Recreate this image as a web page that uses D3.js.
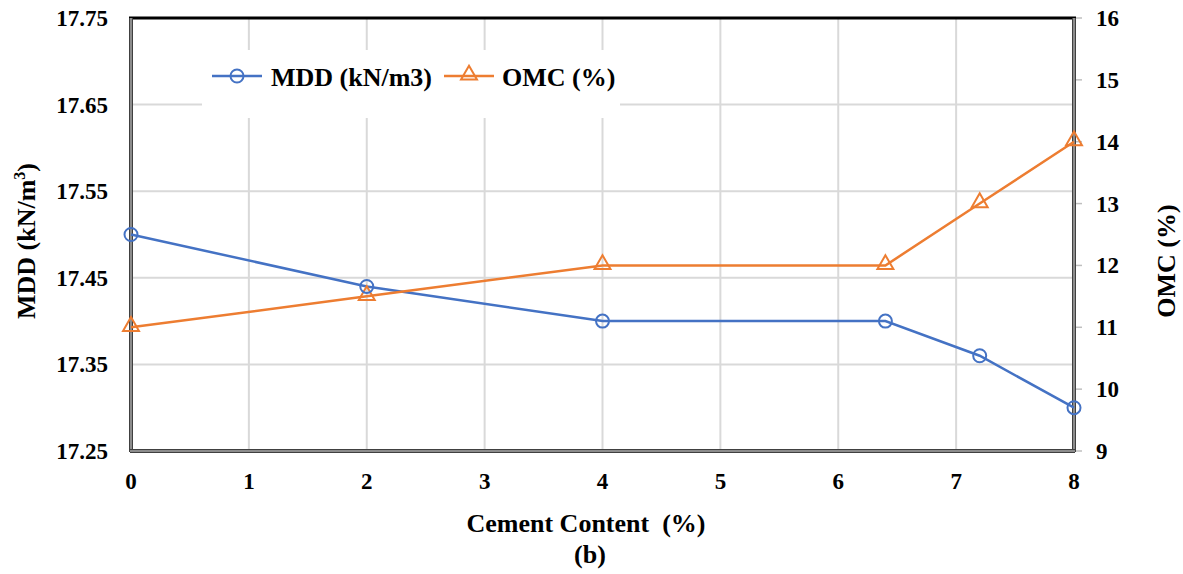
<!DOCTYPE html>
<html><head><meta charset="utf-8">
<script src="https://cdn.jsdelivr.net/npm/d3@7"></script>
<style>body{margin:0;background:#fff}svg{display:block}</style>
</head><body><svg id="c" width="1183" height="574"></svg>
<script>
const cement = [0, 2, 4, 6.4, 7.2, 8];
const mdd = [17.50, 17.44, 17.40, 17.40, 17.36, 17.30];
const omc = [11.0, 11.5, 12.0, 12.0, 13.0, 14.0];
const xTicks = [0,1,2,3,4,5,6,7,8];
const yLeftTicks = [17.25,17.35,17.45,17.55,17.65,17.75];
const yRightTicks = [9,10,11,12,13,14,15,16];

const svg = d3.select("#c")
  .attr("font-family","'Liberation Serif','Times New Roman',Tinos,serif")
  .attr("font-weight","bold");
const L=131, R=1074, T=18, B=451;
const x = d3.scaleLinear().domain([0,8]).range([L,R]);
const yL = d3.scaleLinear().domain([17.25,17.75]).range([B,T]);
const yR = d3.scaleLinear().domain([9,16]).range([B,T]);

const g = svg.append("g");
g.selectAll(".vg").data(xTicks.slice(1,-1)).join("line")
 .attr("x1",d=>x(d)).attr("x2",d=>x(d)).attr("y1",T).attr("y2",B)
 .attr("stroke","#d9d9d9").attr("stroke-width",2);
g.selectAll(".hg").data(yLeftTicks.slice(1,-1)).join("line")
 .attr("x1",L).attr("x2",R).attr("y1",d=>yL(d)).attr("y2",d=>yL(d))
 .attr("stroke","#d9d9d9").attr("stroke-width",2);

svg.append("line").attr("x1",L-2).attr("x2",R+2).attr("y1",T).attr("y2",T).attr("stroke","#000").attr("stroke-width",3);

function dbl(x1,y1,x2,y2){
  svg.append("line").attr("x1",x1).attr("y1",y1).attr("x2",x2).attr("y2",y2).attr("stroke","#404040").attr("stroke-width",4);
  svg.append("line").attr("x1",x1).attr("y1",y1).attr("x2",x2).attr("y2",y2).attr("stroke","#a6a6a6").attr("stroke-width",1.5);
}
dbl(L,T,L,B+1); dbl(R,T,R,B+1); dbl(L-1,B,R+1,B);

svg.selectAll(".rt").data(yRightTicks).join("line")
 .attr("x1",R+2).attr("x2",R+8).attr("y1",d=>yR(d)).attr("y2",d=>yR(d))
 .attr("stroke","#bfbfbf").attr("stroke-width",1.5);

const fs = 23, fsT = 26;
svg.selectAll(".lt").data(yLeftTicks).join("text")
 .attr("x",108).attr("y",d=>yL(d)+8).attr("text-anchor","end").attr("font-size",fs)
 .text(d=>d.toFixed(2));
svg.selectAll(".rtl").data(yRightTicks).join("text")
 .attr("x",1096).attr("y",d=>yR(d)+8).attr("text-anchor","start").attr("font-size",fs)
 .text(d=>d);
svg.selectAll(".xt").data(xTicks).join("text")
 .attr("x",d=>x(d)).attr("y",489).attr("text-anchor","middle").attr("font-size",fs)
 .text(d=>d);

svg.append("text").attr("x",586).attr("y",532).attr("text-anchor","middle").attr("font-size",fsT).attr("xml:space","preserve").text("Cement Content  (%)");
svg.append("text").attr("x",590).attr("y",563).attr("text-anchor","middle").attr("font-size",fsT).text("(b)");
const lt = svg.append("text").attr("transform","translate(35,241) rotate(-90)").attr("text-anchor","middle").attr("font-size",fsT);
lt.append("tspan").text("MDD (kN/m");
lt.append("tspan").attr("font-size",16).attr("dy",-10).text("3");
lt.append("tspan").attr("dy",10).text(")");
svg.append("text").attr("transform","translate(1175,261) rotate(-90)").attr("text-anchor","middle").attr("font-size",fsT).text("OMC (%)");

const blue="#4472C4", orange="#ED7D31";
const dM = cement.map((c,i)=>[c,mdd[i]]);
const dO = cement.map((c,i)=>[c,omc[i]]);
svg.append("path").datum(dM).attr("fill","none").attr("stroke",blue).attr("stroke-width",2.5)
 .attr("d",d3.line().x(d=>x(d[0])).y(d=>yL(d[1])));
svg.append("path").datum(dO).attr("fill","none").attr("stroke",orange).attr("stroke-width",2.5)
 .attr("d",d3.line().x(d=>x(d[0])).y(d=>yR(d[1])));
const tri = d3.symbol().type(d3.symbolTriangle).size(110);
svg.selectAll(".om").data(dO).join("path")
 .attr("transform",d=>`translate(${x(d[0])},${yR(d[1])-1})`).attr("d",tri)
 .attr("fill","none").attr("stroke",orange).attr("stroke-width",2);
svg.selectAll(".mm").data(dM).join("circle")
 .attr("cx",d=>x(d[0])).attr("cy",d=>yL(d[1])).attr("r",6.5)
 .attr("fill","none").attr("stroke",blue).attr("stroke-width",2);

const lg = svg.append("g");
lg.append("rect").attr("x",202).attr("y",50).attr("width",418).attr("height",68).attr("fill","#fff");
lg.append("line").attr("x1",212).attr("x2",262).attr("y1",76).attr("y2",76).attr("stroke",blue).attr("stroke-width",2.5);
lg.append("circle").attr("cx",237).attr("cy",76).attr("r",6.5).attr("fill","none").attr("stroke",blue).attr("stroke-width",2);
lg.append("text").attr("x",271).attr("y",86).attr("font-size",fsT).text("MDD (kN/m3)");
lg.append("line").attr("x1",444).attr("x2",494).attr("y1",76).attr("y2",76).attr("stroke",orange).attr("stroke-width",2.5);
lg.append("path").attr("transform","translate(469,75)").attr("d",tri).attr("fill","none").attr("stroke",orange).attr("stroke-width",2);
lg.append("text").attr("x",502).attr("y",86).attr("font-size",fsT).text("OMC (%)");
</script></body></html>
